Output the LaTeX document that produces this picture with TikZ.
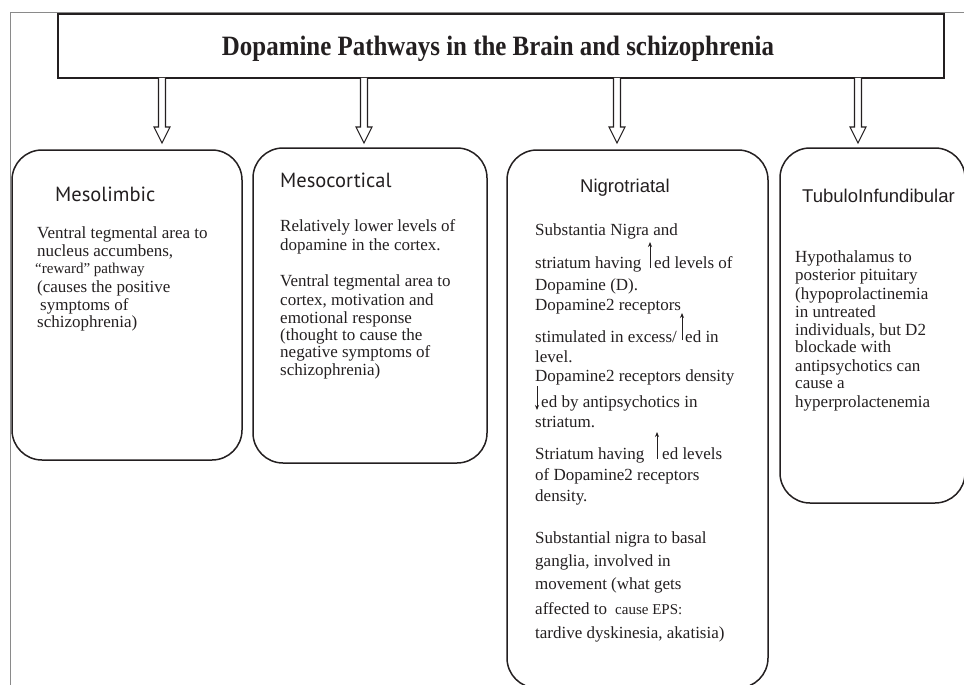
\documentclass[tikz,border=0pt]{standalone}
\usepackage{fontspec}
\setmainfont{Liberation Serif}
\newfontfamily\hsans{Liberation Sans}
\newfontfamily\msans{PT Sans}
\usetikzlibrary{calc,arrows.meta}
\definecolor{ink}{HTML}{231F20}
\definecolor{framegray}{HTML}{8A8A8A}
\newcommand\tline[4]{\node[txt] (#1) at (#2,#3) {#4};}
\newcommand\sline[4]{\node[smalltxt] (#1) at (#2,#3) {#4};}
\newcommand\barrow[2]{%
  \draw[blockarrow] ($(#1)+(-3.5,0)$) -- ($(#2)+(-3.5,-16)$) -- ($(#2)+(-8,-16)$) -- (#2)
    -- ($(#2)+(8,-16)$) -- ($(#2)+(3.5,-16)$) -- ($(#1)+(3.5,0)$);}
\begin{document}
\begin{tikzpicture}[x=1pt,y=-1pt,
  pbox/.style={draw=ink, line width=1.5pt, rounded corners=30pt, inner sep=0pt, outer sep=0pt, anchor=north west},
  titlebox/.style={draw=ink, line width=2pt, fill=white, inner sep=0pt, outer sep=0pt, anchor=north west},
  blockarrow/.style={draw=ink, line width=1.1pt, fill=white, line join=miter},
  txt/.style={inner sep=0pt, anchor=base west, text=ink, font=\fontsize{17}{17}\selectfont},
  smalltxt/.style={inner sep=0pt, anchor=base west, text=ink, font=\fontsize{15}{15}\selectfont},
  headA/.style={inner sep=0pt, anchor=base west, text=ink, font=\msans\fontsize{20.5}{20.5}\selectfont},
  headB/.style={inner sep=0pt, anchor=base west, text=ink, font=\hsans\fontsize{18.5}{18.5}\selectfont},
  inarrow/.style={draw=ink, line width=1pt, -{Stealth[length=5pt,width=4pt]}},
  framed/.style={draw=framegray, line width=1pt}]
\useasboundingbox (0,0) rectangle (964,685);
% frame lines
\draw[framed] (10,685) -- (10,13) -- (964,13);
% title
\node[titlebox, minimum width=886pt, minimum height=64pt] (title) at (58,14) {};
\node[inner sep=0pt, anchor=base, text=ink, font=\bfseries\fontsize{28}{28}\selectfont] (ttl) at (498,56) {\scalebox{0.89}[1]{Dopamine Pathways in the Brain and schizophrenia}};
% boxes
\node[pbox, minimum width=230pt, minimum height=310pt] (b1) at (12,150) {};
\node[pbox, minimum width=234pt, minimum height=315pt] (b2) at (253,148) {};
\node[pbox, minimum width=261pt, minimum height=538pt] (b3) at (507,150) {};
\node[pbox, minimum width=185pt, minimum height=355pt] (b4) at (780,148) {};
% block arrows
\coordinate (a1s) at ($(title.south west)+(104,0)$);
\coordinate (a2s) at ($(title.south west)+(306,0)$);
\coordinate (a3s) at ($(title.south west)+(559,0)$);
\coordinate (a4s) at ($(title.south west)+(800,0)$);
\coordinate (a1e) at ($(a1s |- b1.north)+(0,-7)$);
\coordinate (a2e) at ($(a2s |- b2.north)+(0,-5)$);
\coordinate (a3e) at ($(a3s |- b3.north)+(0,-7)$);
\coordinate (a4e) at ($(a4s |- b4.north)+(0,-5)$);
\barrow{a1s}{a1e}
\barrow{a2s}{a2e}
\barrow{a3s}{a3e}
\barrow{a4s}{a4e}
% box 1
\node[headA] (h1) at (55,201) {Mesolimbic};
\tline{m1}{37}{238}{Ventral tegmental area to}
\tline{m2}{37}{256}{nucleus accumbens,}
\sline{m3}{35}{273}{“reward” pathway}
\tline{m4}{37}{292}{(causes the positive}
\tline{m5}{40}{310}{symptoms of}
\tline{m6}{37}{327}{schizophrenia)}
% box 2
\node[headA] (h2) at (280,187) {Mesocortical};
\tline{c1}{280}{231}{Relatively lower levels of}
\tline{c2}{280}{250}{dopamine in the cortex.}
\tline{c3}{280}{286}{Ventral tegmental area to}
\tline{c4}{280}{305}{cortex, motivation and}
\tline{c5}{280}{323}{emotional response}
\tline{c6}{280}{340}{(thought to cause the}
\tline{c7}{280}{357}{negative symptoms of}
\tline{c8}{280}{375}{schizophrenia)}
% box 3
\node[headB] (h3) at (580,192) {Nigrotriatal};
\tline{n1}{535}{235}{Substantia Nigra and}
\tline{n2}{535}{268}{striatum having}
\coordinate (n2a) at (650,268);
\coordinate (n2b) at (650,242);
\draw[inarrow] (n2a) -- (n2b);
\tline{n2c}{654}{268}{ed levels of}
\tline{n3}{535}{290}{Dopamine (D).}
\tline{n4}{535}{310}{Dopamine2 receptors}
\tline{n5}{535}{342}{stimulated in excess/}
\coordinate (n5a) at (682,340);
\coordinate (n5b) at (682,313);
\draw[inarrow] (n5a) -- (n5b);
\tline{n5c}{685}{342}{ed in}
\tline{n6}{535}{362}{level.}
\tline{n7}{535}{381}{Dopamine2 receptors density}
\coordinate (n8a) at (537,386);
\coordinate (n8b) at (537,410);
\draw[inarrow] (n8a) -- (n8b);
\tline{n8}{541}{407}{ed by antipsychotics in}
\tline{n9}{535}{427}{striatum.}
\tline{n10}{535}{459}{Striatum having}
\coordinate (n10a) at (657,459);
\coordinate (n10b) at (657,432);
\draw[inarrow] (n10a) -- (n10b);
\tline{n10c}{662}{459}{ed levels}
\tline{n11}{535}{480}{of Dopamine2 receptors}
\tline{n12}{535}{501}{density.}
\tline{n13}{535}{543}{Substantial nigra to basal}
\tline{n14}{535}{566}{ganglia, involved in}
\tline{n15}{535}{589}{movement (what gets}
\tline{n16}{535}{614}{affected to}
\sline{n16b}{615}{614}{cause EPS:}
\tline{n17}{535}{638}{tardive dyskinesia, akatisia)}
% box 4
\node[headB] (h4) at (802,202) {TubuloInfundibular};
\tline{t1}{795}{262}{Hypothalamus to}
\tline{t2}{795}{280}{posterior pituitary}
\tline{t3}{795}{299}{(hypoprolactinemia}
\tline{t4}{795}{317}{in untreated}
\tline{t5}{795}{335}{individuals, but D2}
\tline{t6}{795}{352}{blockade with}
\tline{t7}{795}{371}{antipsychotics can}
\tline{t8}{795}{388}{cause a}
\tline{t9}{795}{407}{hyperprolactenemia}
\end{tikzpicture}
\end{document}
